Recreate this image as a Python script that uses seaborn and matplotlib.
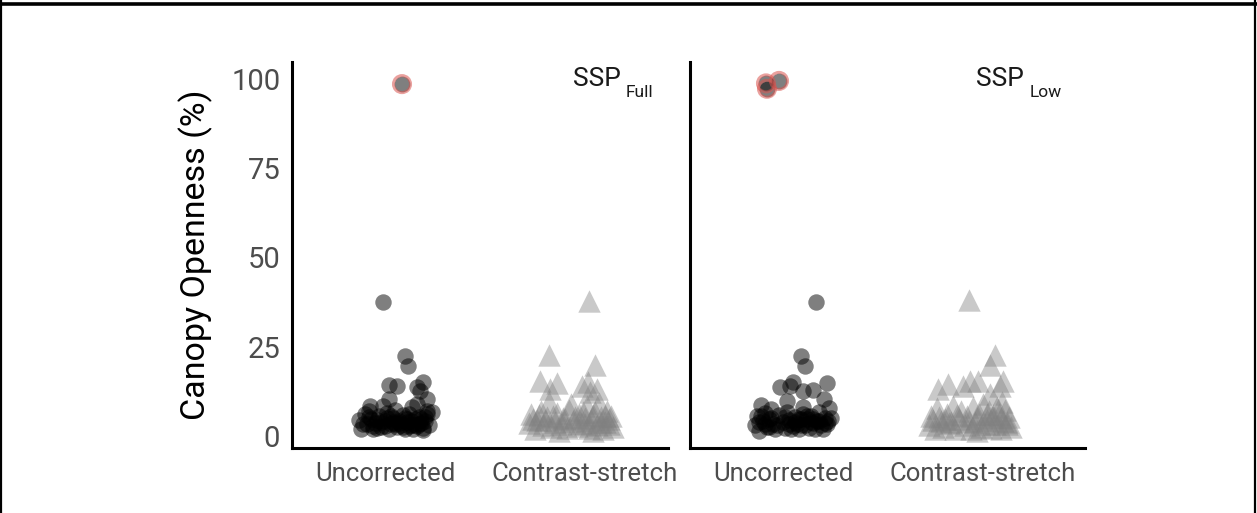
import numpy as np
import pandas as pd
import matplotlib
matplotlib.use("Agg")
import matplotlib.pyplot as plt
import seaborn as sns
from matplotlib.lines import Line2D

sns.set_theme(style="white")
plt.rcParams['font.family'] = ['Roboto', 'DejaVu Sans']

categories = ["Uncorrected", "Contrast-stretch"]
panels = ["Full", "Low"]
y_ticks = [0, 25, 50, 75, 100]

# ---- SSP Full : Uncorrected (jitter offset, value) ----
full_unc_off = [-0.01, 0.10, 0.115, 0.02, 0.06, 0.19, 0.16, 0.175, 0.21, 0.02, -0.075, 0.135, 0.235,
                -0.13, -0.12, -0.10, -0.09, -0.07, -0.06, -0.05, -0.03, -0.02, 0.00, 0.01, 0.02, 0.03,
                0.04, 0.05, 0.06, 0.07, 0.08, 0.09, 0.10, 0.11, 0.12, 0.13, 0.14, 0.15, 0.16, 0.17,
                0.18, 0.19, 0.20, 0.21, 0.22, -0.08, -0.01, 0.16, 0.21, 0.04, -0.04, 0.12, 0.19,
                -0.11, -0.08, -0.04, 0.00, 0.03, 0.07, 0.10, 0.13, 0.17, 0.20, -0.02, 0.05, 0.09,
                0.15, -0.06, 0.01, 0.11, 0.18]
full_unc_val = [37.6, 22.3, 19.5, 14.3, 14.1, 15.0, 13.6, 12.7, 10.4, 10.2, 8.3, 8.0, 6.6,
                4.5, 2.0, 6.0, 3.2, 4.8, 1.8, 3.5, 5.5, 2.6, 4.1, 6.3, 1.9, 3.3,
                5.0, 7.2, 2.5, 4.3, 3.0, 5.8, 2.0, 4.0, 6.0, 3.1, 1.8, 4.6, 2.7, 5.2,
                3.6, 2.2, 4.2, 6.0, 3.0, 7.0, 8.5, 9.0, 7.0, 3.8, 2.2, 2.9, 1.6,
                3.4, 5.2, 4.4, 2.8, 5.6, 3.6, 5.0, 4.2, 3.4, 5.2, 4.0, 3.2, 2.6,
                3.0, 2.8, 5.0, 4.6, 4.8]
full_unc_out_off = [0.085]
full_unc_out_val = [98.6]

# ---- SSP Full : Contrast-stretch ----
full_con_off = [0.02, -0.18, 0.05, -0.225, -0.14, -0.175, -0.015, 0.015, 0.06, 0.025,
                -0.28, -0.27, -0.25, -0.24, -0.22, -0.21, -0.19, -0.18, -0.17, -0.15, -0.14, -0.12,
                -0.11, -0.09, -0.08, -0.07, -0.06, -0.04, -0.03, -0.02, 0.00, 0.01, 0.02, 0.03,
                0.05, 0.06, 0.07, 0.08, 0.09, 0.10, 0.11, 0.12, 0.13, 0.14, -0.13, 0.04,
                -0.26, -0.20, -0.16, -0.10, -0.05, 0.00, 0.04, 0.08, 0.12, -0.23, -0.01, 0.10]
full_con_val = [37.8, 22.8, 20.0, 15.4, 14.8, 13.1, 14.0, 15.0, 13.1, 12.3,
                3.5, 6.0, 2.0, 4.5, 7.0, 3.0, 5.2, 9.5, 2.4, 4.0, 6.5, 3.2,
                5.0, 2.2, 7.2, 9.0, 4.2, 2.8, 6.0, 3.6, 5.0, 8.5, 2.2, 4.4,
                6.8, 3.0, 9.3, 5.2, 2.0, 4.0, 7.0, 3.2, 5.5, 2.5, 1.5, 1.5,
                4.8, 4.4, 5.6, 4.6, 5.4, 3.4, 5.8, 3.8, 4.6, 5.8, 6.6, 5.6]

# ---- SSP Low : Uncorrected ----
low_unc_off = [0.165, 0.09, 0.11, -0.015, 0.035, 0.05, 0.10, 0.15, 0.22, 0.205, -0.11, 0.02, 0.225,
               -0.14, -0.13, -0.12, -0.10, -0.09, -0.08, -0.07, -0.05, -0.04, -0.02, 0.00, 0.01,
               0.02, 0.03, 0.05, 0.06, 0.07, 0.08, 0.09, 0.10, 0.11, 0.12, 0.13, 0.14, 0.15, 0.16,
               0.17, 0.18, 0.19, 0.20, 0.21, 0.22, 0.23, 0.24, 0.10, -0.06, 0.04,
               -0.12, -0.09, -0.06, -0.03, 0.03, 0.06, 0.09, 0.12, 0.15, 0.18, 0.21, -0.11,
               -0.07, 0.01, 0.08, 0.14]
low_unc_val = [37.6, 22.3, 19.5, 13.6, 14.1, 15.0, 12.7, 12.9, 14.8, 10.3, 8.6, 9.8, 4.3,
               3.0, 5.5, 1.5, 4.2, 6.5, 2.5, 4.8, 3.4, 1.8, 5.8, 3.8, 2.2,
               6.8, 4.4, 2.8, 5.2, 3.4, 1.9, 4.6, 6.2, 3.0, 4.8, 2.2, 5.6, 3.7, 1.8,
               4.3, 6.6, 3.1, 2.0, 5.0, 3.2, 7.8, 5.0, 8.0, 7.5, 2.0,
               4.0, 3.2, 5.0, 3.0, 3.4, 4.0, 3.0, 5.6, 4.6, 4.2, 3.6, 5.6,
               2.6, 5.2, 4.6, 3.8]
low_unc_out_off = [-0.085, -0.08, -0.02]
low_unc_out_val = [98.8, 97.3, 99.5]

# ---- SSP Low : Contrast-stretch ----
low_con_off = [-0.07, 0.06, 0.035, -0.225, -0.175, -0.10, -0.065, -0.025, 0.10, 0.085, 0.035, 0.095,
               -0.27, -0.26, -0.24, -0.23, -0.21, -0.20, -0.18, -0.17, -0.15, -0.14, -0.12, -0.11,
               -0.09, -0.08, -0.06, -0.05, -0.04, -0.02, -0.01, 0.00, 0.02, 0.03, 0.04, 0.05,
               0.06, 0.07, 0.08, 0.09, 0.10, 0.11, 0.12, 0.13, 0.14, -0.03,
               -0.25, -0.19, -0.13, -0.07, -0.03, 0.01, 0.05, 0.09, 0.12, -0.22, -0.16, 0.02]
low_con_val = [38.2, 22.8, 20.0, 13.1, 14.5, 14.0, 15.4, 15.4, 15.4, 14.0, 11.7, 9.4,
               3.0, 5.5, 1.8, 7.8, 4.2, 2.5, 6.0, 3.5, 8.5, 2.0, 4.8, 7.0,
               3.0, 5.5, 1.8, 8.0, 4.0, 6.2, 2.6, 9.0, 4.5, 7.0, 2.2, 5.2,
               3.4, 8.2, 6.0, 2.0, 4.2, 7.2, 3.2, 5.2, 2.4, 1.5,
               4.4, 4.8, 5.8, 4.2, 5.0, 3.2, 5.8, 5.0, 4.0, 5.2, 4.0, 6.0]

data = {
    "Full": dict(unc=(full_unc_off, full_unc_val), con=(full_con_off, full_con_val),
                 out=(full_unc_out_off, full_unc_out_val)),
    "Low": dict(unc=(low_unc_off, low_unc_val), con=(low_con_off, low_con_val),
                out=(low_unc_out_off, low_unc_out_val)),
}

W, H = 1257, 513
fig = plt.figure(figsize=(W / 100, H / 100), dpi=100)
fig.patch.set_facecolor("white")

ax_rects = [
    (292 / W, 1 - 448 / H, 376 / W, 386 / H),
    (690 / W, 1 - 448 / H, 395 / W, 386 / H),
]
xlims = [(-0.465, 1.415), (-0.465, 1.51)]
ylim = (-3.4, 104.8)
sub_x = [(0.94, 1.205), (0.965, 1.235)]

for i, panel in enumerate(panels):
    ax = fig.add_axes(ax_rects[i])
    d = data[panel]
    df_unc = pd.DataFrame({"x": np.array(d["unc"][0]) + 0, "value": d["unc"][1]})
    df_con = pd.DataFrame({"x": np.array(d["con"][0]) + 1, "value": d["con"][1]})
    df_out = pd.DataFrame({"x": np.array(d["out"][0]) + 0, "value": d["out"][1]})

    sns.scatterplot(data=df_con, x="x", y="value", ax=ax, marker="^", s=260,
                    color="#808080", alpha=0.42, linewidth=0, legend=False)
    sns.scatterplot(data=df_unc, x="x", y="value", ax=ax, marker="o", s=140,
                    color="black", alpha=0.5, linewidth=0, legend=False)
    sns.scatterplot(data=df_out, x="x", y="value", ax=ax, marker="o", s=130,
                    color="black", alpha=0.5, linewidth=0, legend=False)
    n_before = len(ax.collections)
    sns.scatterplot(data=df_out, x="x", y="value", ax=ax, marker="o", s=150,
                    color="#d9534f", alpha=0.55, linewidth=2.2, legend=False)
    ring = ax.collections[n_before]
    ring.set_facecolor("none")
    ring.set_edgecolor((0.85, 0.33, 0.31, 0.55))

    ax.set_xlim(*xlims[i])
    ax.set_ylim(*ylim)
    ax.set_xticks([0, 1])
    ax.set_xticklabels(categories)
    ax.set_xlabel("")
    ax.tick_params(axis="x", length=0, pad=10, labelsize=18.5, labelcolor="#4d4d4d")
    if i == 0:
        ax.set_yticks(y_ticks)
        ax.set_yticklabels([str(t) for t in y_ticks])
        ax.tick_params(axis="y", length=0, pad=8.5, labelsize=21, labelcolor="#4d4d4d")
        ax.set_ylabel("Canopy Openness (%)", fontsize=24.5, color="black", labelpad=13)
    else:
        ax.set_yticks([])
        ax.set_ylabel("")
    for side in ["top", "right"]:
        ax.spines[side].set_visible(False)
    for side in ["left", "bottom"]:
        ax.spines[side].set_visible(True)
        ax.spines[side].set_color("black")
        ax.spines[side].set_linewidth(2.2)
    ax.grid(False)
    ax.set_facecolor("white")

    ax.text(sub_x[i][0], 98.0, "SSP", fontsize=19, color="#1a1a1a", ha="left", va="baseline")
    ax.text(sub_x[i][1], 95.0, panel, fontsize=12.5, color="#1a1a1a", ha="left", va="baseline")

# figure border (top, left, right)
fig.add_artist(Line2D([0, 1], [1 - 3.5 / H, 1 - 3.5 / H], transform=fig.transFigure,
                      color="black", linewidth=2.6))
fig.add_artist(Line2D([1 / W, 1 / W], [0, 1], transform=fig.transFigure,
                      color="black", linewidth=1.6))
fig.add_artist(Line2D([1 - 2 / W, 1 - 2 / W], [0, 1], transform=fig.transFigure,
                      color="black", linewidth=1.6))

fig.savefig("out.png", dpi=100, facecolor="white")
